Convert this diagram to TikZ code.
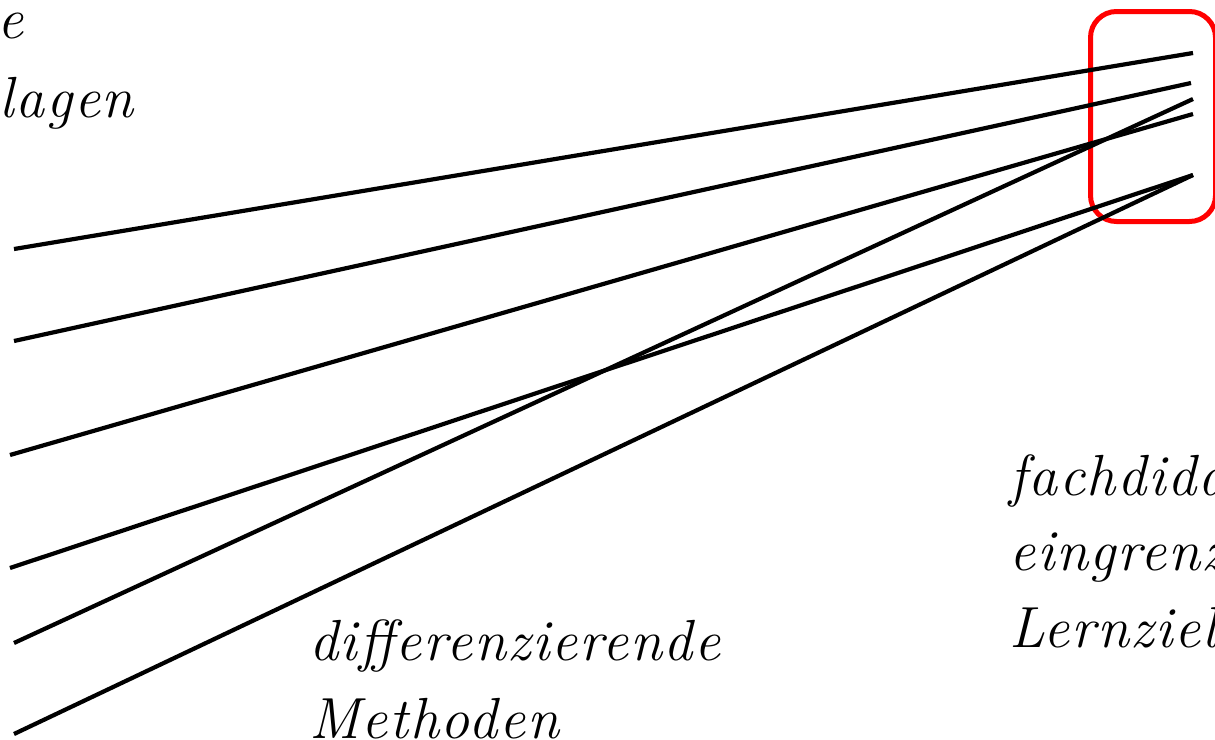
\documentclass[tikz,border=0pt]{standalone}
\usepackage{fontspec}
\setmainfont{Latin Modern Roman}[LetterSpace=3]
\begin{document}
\begin{tikzpicture}[x=1pt,y=-1pt,
  lbl/.style={inner sep=0pt,font=\fontsize{58}{77}\selectfont\itshape},
  conn/.style={line width=4.2pt,black},
  frame/.style={draw=red,line width=5pt,rounded corners=26pt}]
\useasboundingbox (0,0) rectangle (1215,739);
\clip (0,0) rectangle (1215,739);
% red frame
\node[frame,minimum width=125pt,minimum height=210pt,anchor=north west,inner sep=0pt] (box) at (1088,9) {};
% end points
\coordinate (L1) at (14,249);
\coordinate (L2) at (14,341);
\coordinate (L3) at (10,455);
\coordinate (L4) at (10,568);
\coordinate (L5) at (14,643);
\coordinate (L6) at (14,734);
\coordinate (R1) at (1193,53);
\coordinate (R2) at (1191,83);
\coordinate (R3) at (1193,99);
\coordinate (R4) at (1193,114);
\coordinate (R5) at (1193,175);
\draw[conn] (L1) -- (R1);
\draw[conn] (L2) -- (R2);
\draw[conn] (L3) -- (R4);
\draw[conn] (L4) -- (R5);
\draw[conn] (L5) -- (R3);
\draw[conn] (L6) -- (R5);
% labels
\node[lbl,anchor=base east] (t1a) at (24,38) {e};
\node[lbl,anchor=base east] (t1b) at (134,117) {lagen};
\node[lbl,anchor=base west] (t2a) at (309,660) {differenzierende};
\node[lbl,anchor=base west] (t2b) at (309,738) {Methoden};
\node[lbl,anchor=base west] (t3a) at (1009,495) {fachdida};
\node[lbl,anchor=base west] (t3b) at (1009,570) {eingrenz};
\node[lbl,anchor=base west] (t3c) at (1009,647) {Lernziel};
\end{tikzpicture}
\end{document}
